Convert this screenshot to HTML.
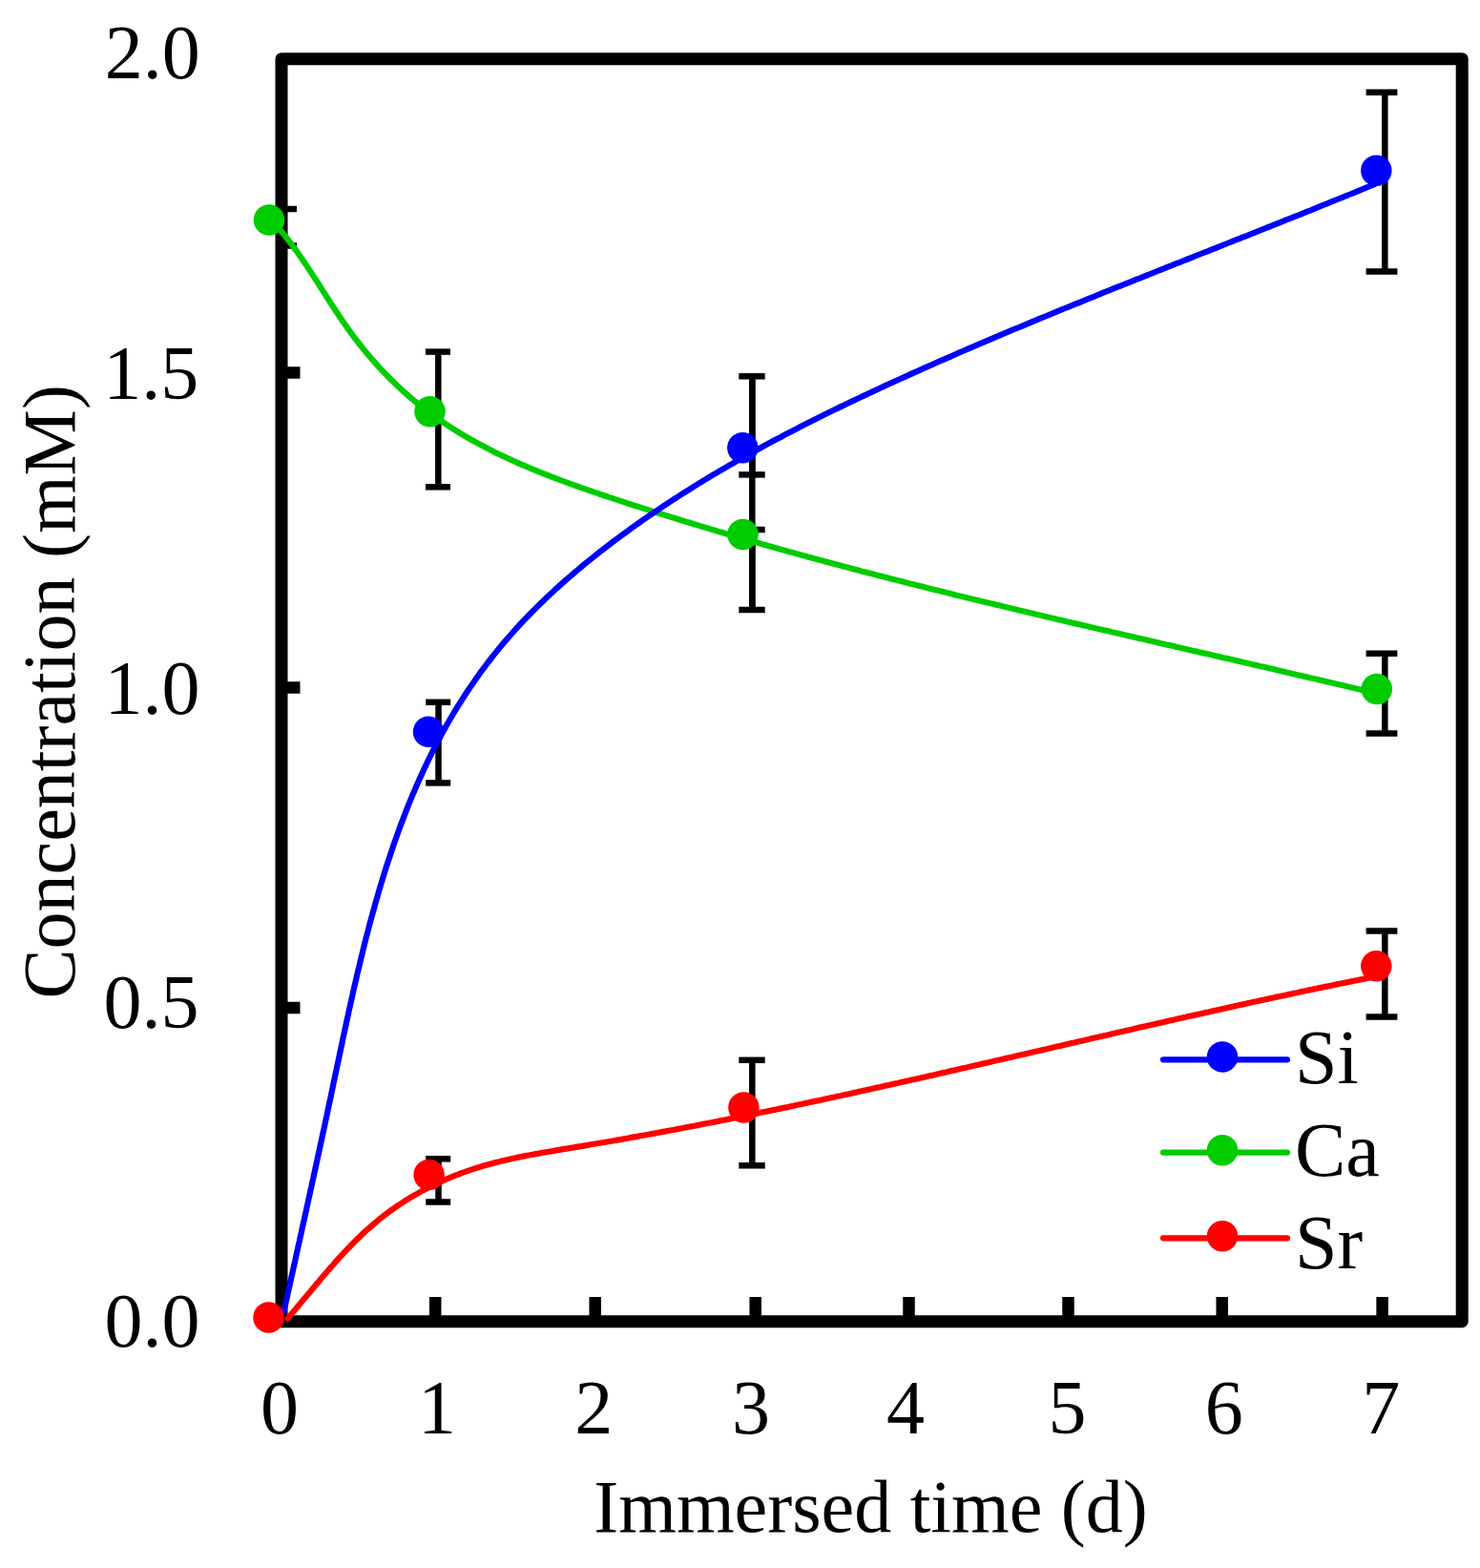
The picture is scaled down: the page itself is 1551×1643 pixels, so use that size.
<!DOCTYPE html>
<html><head><meta charset="utf-8"><title>Concentration vs Immersed time</title>
<style>
html,body{margin:0;padding:0;background:#fff;}
body{width:1551px;height:1643px;overflow:hidden;}
svg{display:block;}
.t{font-family:"Liberation Serif","Times New Roman",serif;font-size:80px;fill:#000;}
.t2{font-family:"Liberation Serif","Times New Roman",serif;font-size:78px;fill:#000;}
</style></head>
<body>
<svg width="1551" height="1643" viewBox="0 0 1551 1643">
<rect width="1551" height="1643" fill="#fff"/>
<rect x="295.0" y="61.7" width="1237.2" height="1323.0" fill="none" stroke="#000" stroke-width="13" stroke-linejoin="round"/>
<g stroke="#000" stroke-width="12.5"><line x1="456.2" y1="1384.7" x2="456.2" y2="1359"/><line x1="623.7" y1="1384.7" x2="623.7" y2="1359"/><line x1="791.7" y1="1384.7" x2="791.7" y2="1359"/><line x1="952.5" y1="1384.7" x2="952.5" y2="1359"/><line x1="1119.5" y1="1384.7" x2="1119.5" y2="1359"/><line x1="1280.7" y1="1384.7" x2="1280.7" y2="1359"/><line x1="1448.6" y1="1384.7" x2="1448.6" y2="1359"/><line x1="295.0" y1="390.5" x2="314.5" y2="390.5"/><line x1="295.0" y1="720.5" x2="314.5" y2="720.5"/><line x1="295.0" y1="1056.0" x2="314.5" y2="1056.0"/></g>
<g stroke="#000" stroke-width="6.5"><line x1="295.0" y1="219" x2="295.0" y2="257.5"/><line x1="292.0" y1="219" x2="311.0" y2="219"/><line x1="292.0" y1="257.5" x2="311.0" y2="257.5"/><line x1="459.3" y1="368.6" x2="459.3" y2="510.3"/><line x1="446.0" y1="368.6" x2="472.0" y2="368.6"/><line x1="446.0" y1="510.3" x2="472.0" y2="510.3"/><line x1="459.5" y1="735.8" x2="459.5" y2="820.4"/><line x1="446.2" y1="735.8" x2="472.2" y2="735.8"/><line x1="446.2" y1="820.4" x2="472.2" y2="820.4"/><line x1="459.5" y1="1214.3" x2="459.5" y2="1259.5"/><line x1="446.2" y1="1214.3" x2="472.2" y2="1214.3"/><line x1="446.2" y1="1259.5" x2="472.2" y2="1259.5"/><line x1="788.3" y1="394.3" x2="788.3" y2="497.4"/><line x1="774.3" y1="394.3" x2="801.7" y2="394.3"/><line x1="774.3" y1="497.4" x2="801.7" y2="497.4"/><line x1="788.3" y1="555.0" x2="788.3" y2="639.0"/><line x1="774.3" y1="555.0" x2="801.7" y2="555.0"/><line x1="774.3" y1="639.0" x2="801.7" y2="639.0"/><line x1="788.3" y1="394.3" x2="788.3" y2="639.0"/><line x1="788.0" y1="394.3" x2="788.0" y2="394.3"/><line x1="788.0" y1="639.0" x2="788.0" y2="639.0"/><line x1="788.3" y1="1110.8" x2="788.3" y2="1221.3"/><line x1="774.3" y1="1110.8" x2="801.7" y2="1110.8"/><line x1="774.3" y1="1221.3" x2="801.7" y2="1221.3"/><line x1="1451.3" y1="96.8" x2="1451.3" y2="284.5"/><line x1="1431.6" y1="96.8" x2="1464.4" y2="96.8"/><line x1="1431.6" y1="284.5" x2="1464.4" y2="284.5"/><line x1="1451.3" y1="684.8" x2="1451.3" y2="768.6"/><line x1="1431.6" y1="684.8" x2="1464.4" y2="684.8"/><line x1="1431.6" y1="768.6" x2="1464.4" y2="768.6"/><line x1="1451.3" y1="975.4" x2="1451.3" y2="1065.4"/><line x1="1431.6" y1="975.4" x2="1464.4" y2="975.4"/><line x1="1431.6" y1="1065.4" x2="1464.4" y2="1065.4"/></g>
<path d="M293.5,240.8 L295.5,243.3 L297.6,245.7 L299.6,248.3 L301.6,250.8 L303.5,253.3 L305.5,255.9 L307.4,258.5 L309.3,261.0 L311.1,263.6 L313.0,266.3 L314.8,268.9 L316.7,271.5 L318.5,274.2 L320.3,276.9 L322.1,279.5 L323.8,282.2 L325.6,284.9 L327.4,287.6 L329.1,290.3 L330.9,293.0 L332.6,295.7 L334.3,298.4 L336.1,301.2 L337.8,303.9 L339.6,306.6 L341.3,309.3 L343.0,312.0 L344.8,314.8 L346.5,317.5 L348.3,320.2 L350.1,322.9 L351.8,325.6 L353.6,328.3 L355.4,331.0 L357.2,333.7 L359.0,336.4 L360.9,339.0 L362.7,341.7 L364.6,344.3 L366.5,347.0 L368.4,349.6 L370.3,352.2 L372.3,354.8 L374.3,357.4 L376.3,360.0 L378.3,362.5 L380.3,365.1 L382.4,367.6 L384.4,370.1 L386.5,372.6 L388.7,375.0 L390.8,377.5 L392.9,379.9 L395.1,382.4 L397.3,384.8 L399.5,387.2 L401.8,389.5 L404.0,391.9 L406.3,394.2 L408.6,396.5 L410.9,398.8 L413.2,401.1 L415.5,403.3 L417.9,405.5 L420.3,407.7 L422.6,409.9 L425.1,412.1 L427.5,414.2 L429.9,416.3 L432.4,418.4 L434.8,420.5 L437.3,422.5 L439.8,424.5 L442.4,426.5 L444.9,428.5 L447.4,430.4 L450.0,432.4 L452.6,434.3 L455.2,436.1 L457.8,438.0 L460.4,439.8 L463.0,441.6 L465.7,443.4 L468.4,445.2 L471.0,446.9 L473.7,448.7 L476.4,450.4 L479.1,452.0 L481.9,453.7 L484.6,455.3 L487.4,457.0 L490.1,458.6 L492.9,460.2 L495.7,461.7 L498.5,463.3 L501.3,464.8 L504.1,466.3 L506.9,467.8 L509.8,469.3 L512.6,470.8 L515.5,472.2 L518.3,473.7 L521.2,475.1 L524.1,476.5 L527.0,477.9 L529.9,479.2 L532.8,480.6 L535.7,481.9 L538.7,483.3 L541.6,484.6 L544.5,485.9 L547.5,487.2 L550.5,488.4 L553.4,489.7 L556.4,490.9 L559.4,492.2 L562.4,493.4 L565.4,494.6 L568.4,495.8 L571.4,497.0 L574.4,498.2 L577.4,499.4 L580.4,500.5 L583.4,501.7 L586.5,502.8 L589.5,503.9 L592.6,505.1 L595.6,506.2 L598.7,507.3 L601.7,508.4 L604.8,509.5 L607.8,510.6 L610.9,511.6 L614.0,512.7 L617.0,513.8 L620.1,514.8 L623.2,515.9 L626.3,516.9 L629.3,518.0 L632.4,519.0 L635.5,520.0 L638.6,521.1 L641.7,522.1 L644.8,523.1 L647.9,524.1 L650.9,525.1 L654.0,526.1 L657.1,527.2 L660.2,528.2 L663.3,529.2 L666.4,530.2 L669.5,531.1 L672.6,532.1 L675.7,533.1 L678.8,534.1 L681.9,535.1 L684.9,536.1 L688.0,537.0 L691.1,538.0 L694.2,539.0 L697.3,540.0 L700.4,540.9 L703.5,541.9 L706.6,542.8 L709.7,543.8 L712.8,544.8 L715.9,545.7 L719.0,546.7 L722.1,547.6 L725.2,548.5 L728.3,549.5 L731.4,550.4 L734.5,551.4 L737.6,552.3 L740.7,553.2 L743.8,554.1 L746.9,555.1 L750.0,556.0 L753.1,556.9 L756.2,557.8 L759.3,558.7 L762.4,559.7 L765.5,560.6 L768.6,561.5 L771.8,562.4 L774.9,563.3 L778.0,564.2 L781.1,565.1 L784.2,566.0 L787.3,566.9 L790.4,567.7 L793.5,568.6 L796.6,569.5 L799.7,570.4 L802.8,571.3 L805.9,572.2 L809.1,573.0 L812.2,573.9 L815.3,574.8 L818.4,575.7 L821.5,576.5 L824.6,577.4 L827.7,578.3 L830.8,579.1 L834.0,580.0 L837.1,580.8 L840.2,581.7 L843.3,582.5 L846.4,583.4 L849.5,584.2 L852.6,585.1 L855.8,585.9 L858.9,586.8 L862.0,587.6 L865.1,588.4 L868.2,589.3 L871.3,590.1 L874.5,591.0 L877.6,591.8 L880.7,592.6 L883.8,593.4 L886.9,594.3 L890.1,595.1 L893.2,595.9 L896.3,596.7 L899.4,597.5 L902.5,598.4 L905.7,599.2 L908.8,600.0 L911.9,600.8 L915.0,601.6 L918.2,602.4 L921.3,603.2 L924.4,604.0 L927.5,604.8 L930.6,605.6 L933.8,606.4 L936.9,607.2 L940.0,608.0 L943.1,608.8 L946.3,609.6 L949.4,610.4 L952.5,611.2 L955.7,612.0 L958.8,612.8 L961.9,613.6 L965.0,614.3 L968.2,615.1 L971.3,615.9 L974.4,616.7 L977.6,617.5 L980.7,618.3 L983.8,619.0 L986.9,619.8 L990.1,620.6 L993.2,621.3 L996.3,622.1 L999.5,622.9 L1002.6,623.7 L1005.7,624.4 L1008.9,625.2 L1012.0,626.0 L1015.1,626.7 L1018.3,627.5 L1021.4,628.2 L1024.5,629.0 L1027.7,629.8 L1030.8,630.5 L1033.9,631.3 L1037.1,632.0 L1040.2,632.8 L1043.3,633.6 L1046.5,634.3 L1049.6,635.1 L1052.7,635.8 L1055.9,636.6 L1059.0,637.3 L1062.1,638.1 L1065.3,638.8 L1068.4,639.6 L1071.6,640.3 L1074.7,641.0 L1077.8,641.8 L1081.0,642.5 L1084.1,643.3 L1087.2,644.0 L1090.4,644.8 L1093.5,645.5 L1096.7,646.2 L1099.8,647.0 L1102.9,647.7 L1106.1,648.4 L1109.2,649.2 L1112.4,649.9 L1115.5,650.7 L1118.6,651.4 L1121.8,652.1 L1124.9,652.9 L1128.1,653.6 L1131.2,654.3 L1134.3,655.1 L1137.5,655.8 L1140.6,656.5 L1143.8,657.3 L1146.9,658.0 L1150.1,658.7 L1153.2,659.4 L1156.3,660.2 L1159.5,660.9 L1162.6,661.6 L1165.8,662.4 L1168.9,663.1 L1172.1,663.8 L1175.2,664.5 L1178.4,665.3 L1181.5,666.0 L1184.6,666.7 L1187.8,667.4 L1190.9,668.2 L1194.1,668.9 L1197.2,669.6 L1200.4,670.3 L1203.5,671.1 L1206.7,671.8 L1209.8,672.5 L1213.0,673.2 L1216.1,674.0 L1219.3,674.7 L1222.4,675.4 L1225.6,676.1 L1228.7,676.8 L1231.8,677.6 L1235.0,678.3 L1238.1,679.0 L1241.3,679.7 L1244.4,680.5 L1247.6,681.2 L1250.7,681.9 L1253.9,682.6 L1257.0,683.4 L1260.2,684.1 L1263.3,684.8 L1266.5,685.5 L1269.6,686.3 L1272.8,687.0 L1275.9,687.7 L1279.1,688.4 L1282.2,689.2 L1285.4,689.9 L1288.5,690.6 L1291.7,691.3 L1294.8,692.1 L1298.0,692.8 L1301.1,693.5 L1304.3,694.2 L1307.4,695.0 L1310.6,695.7 L1313.7,696.4 L1316.9,697.1 L1320.1,697.9 L1323.2,698.6 L1326.4,699.3 L1329.5,700.1 L1332.7,700.8 L1335.8,701.5 L1339.0,702.3 L1342.1,703.0 L1345.3,703.7 L1348.4,704.5 L1351.6,705.2 L1354.7,705.9 L1357.9,706.7 L1361.0,707.4 L1364.2,708.1 L1367.3,708.9 L1370.5,709.6 L1373.7,710.4 L1376.8,711.1 L1380.0,711.8 L1383.1,712.6 L1386.3,713.3 L1389.4,714.1 L1392.6,714.8 L1395.7,715.5 L1398.9,716.3 L1402.0,717.0 L1405.2,717.8 L1408.4,718.5 L1411.5,719.3 L1414.7,720.0 L1417.8,720.8 L1421.0,721.5 L1424.1,722.3 L1427.3,723.0 L1430.4,723.8 L1433.6,724.5 L1436.7,725.3 L1439.9,726.1 L1443.1,726.8" fill="none" stroke="#00cc00" stroke-width="6.2" stroke-linecap="round" stroke-linejoin="round"/>
<path d="M297.6,1373.9 L298.5,1369.5 L299.5,1365.1 L300.5,1360.7 L301.4,1356.3 L302.4,1352.0 L303.4,1347.6 L304.3,1343.2 L305.3,1338.8 L306.3,1334.5 L307.2,1330.1 L308.2,1325.7 L309.2,1321.4 L310.1,1317.0 L311.1,1312.6 L312.0,1308.3 L313.0,1303.9 L314.0,1299.6 L314.9,1295.2 L315.9,1290.9 L316.8,1286.5 L317.8,1282.2 L318.8,1277.8 L319.7,1273.5 L320.7,1269.1 L321.6,1264.8 L322.6,1260.4 L323.5,1256.1 L324.5,1251.8 L325.4,1247.4 L326.4,1243.1 L327.3,1238.7 L328.3,1234.4 L329.2,1230.1 L330.2,1225.7 L331.1,1221.4 L332.1,1217.0 L333.0,1212.7 L333.9,1208.3 L334.9,1204.0 L335.8,1199.7 L336.8,1195.3 L337.7,1191.0 L338.6,1186.6 L339.6,1182.2 L340.5,1177.9 L341.4,1173.5 L342.4,1169.2 L343.3,1164.8 L344.2,1160.4 L345.1,1156.1 L346.1,1151.7 L347.0,1147.3 L347.9,1142.9 L348.8,1138.6 L349.7,1134.2 L350.7,1129.8 L351.6,1125.4 L352.5,1121.0 L353.4,1116.6 L354.4,1112.2 L355.3,1107.8 L356.2,1103.5 L357.1,1099.1 L358.1,1094.7 L359.0,1090.3 L359.9,1085.9 L360.9,1081.5 L361.8,1077.1 L362.8,1072.7 L363.7,1068.3 L364.7,1063.9 L365.6,1059.5 L366.6,1055.1 L367.6,1050.7 L368.6,1046.3 L369.6,1041.9 L370.5,1037.5 L371.5,1033.1 L372.6,1028.7 L373.6,1024.3 L374.6,1019.9 L375.6,1015.6 L376.7,1011.2 L377.7,1006.8 L378.8,1002.4 L379.9,998.1 L380.9,993.7 L382.0,989.3 L383.1,985.0 L384.2,980.6 L385.4,976.3 L386.5,971.9 L387.6,967.6 L388.8,963.2 L390.0,958.9 L391.2,954.6 L392.4,950.3 L393.6,945.9 L394.8,941.6 L396.1,937.3 L397.3,933.0 L398.6,928.7 L399.9,924.4 L401.2,920.1 L402.5,915.9 L403.8,911.6 L405.2,907.3 L406.6,903.1 L408.0,898.8 L409.4,894.6 L410.8,890.4 L412.2,886.1 L413.7,881.9 L415.2,877.7 L416.7,873.5 L418.2,869.3 L419.7,865.1 L421.3,861.0 L422.9,856.8 L424.5,852.6 L426.1,848.5 L427.7,844.4 L429.4,840.2 L431.1,836.1 L432.8,832.0 L434.6,827.9 L436.3,823.8 L438.1,819.8 L439.9,815.7 L441.8,811.7 L443.6,807.6 L445.5,803.6 L447.4,799.6 L449.3,795.6 L451.3,791.6 L453.3,787.6 L455.3,783.6 L457.3,779.7 L459.4,775.7 L461.5,771.8 L463.6,767.9 L465.8,764.0 L468.0,760.1 L470.2,756.2 L472.4,752.4 L474.7,748.5 L477.0,744.7 L479.3,740.9 L481.7,737.1 L484.1,733.3 L486.5,729.5 L488.9,725.8 L491.4,722.1 L493.9,718.4 L496.5,714.7 L499.0,711.0 L501.6,707.4 L504.2,703.7 L506.9,700.1 L509.6,696.5 L512.3,693.0 L515.0,689.5 L517.8,685.9 L520.6,682.5 L523.4,679.0 L526.3,675.6 L529.2,672.1 L532.1,668.8 L535.0,665.4 L538.0,662.0 L541.0,658.7 L544.0,655.4 L547.0,652.2 L550.1,648.9 L553.2,645.7 L556.3,642.5 L559.4,639.3 L562.6,636.1 L565.8,633.0 L569.0,629.9 L572.2,626.8 L575.5,623.7 L578.8,620.7 L582.1,617.6 L585.4,614.6 L588.7,611.6 L592.0,608.7 L595.4,605.7 L598.8,602.8 L602.2,599.9 L605.6,597.0 L609.1,594.1 L612.5,591.2 L616.0,588.4 L619.5,585.6 L623.0,582.8 L626.5,580.0 L630.0,577.2 L633.6,574.5 L637.1,571.8 L640.7,569.0 L644.3,566.3 L647.8,563.7 L651.4,561.0 L655.1,558.4 L658.7,555.7 L662.3,553.1 L665.9,550.5 L669.6,547.9 L673.3,545.3 L676.9,542.8 L680.6,540.3 L684.3,537.7 L688.0,535.2 L691.7,532.7 L695.4,530.2 L699.2,527.8 L702.9,525.3 L706.6,522.9 L710.4,520.5 L714.2,518.0 L717.9,515.6 L721.7,513.3 L725.5,510.9 L729.3,508.5 L733.1,506.2 L736.9,503.9 L740.7,501.5 L744.6,499.2 L748.4,496.9 L752.3,494.7 L756.1,492.4 L760.0,490.1 L763.8,487.9 L767.7,485.7 L771.6,483.4 L775.5,481.2 L779.4,479.0 L783.3,476.8 L787.2,474.7 L791.1,472.5 L795.0,470.4 L798.9,468.2 L802.9,466.1 L806.8,464.0 L810.8,461.8 L814.7,459.7 L818.7,457.7 L822.6,455.6 L826.6,453.5 L830.6,451.4 L834.5,449.4 L838.5,447.3 L842.5,445.3 L846.5,443.3 L850.5,441.3 L854.5,439.2 L858.5,437.2 L862.5,435.3 L866.5,433.3 L870.6,431.3 L874.6,429.3 L878.6,427.4 L882.7,425.4 L886.7,423.5 L890.7,421.5 L894.8,419.6 L898.8,417.7 L902.9,415.8 L906.9,413.9 L911.0,412.0 L915.0,410.1 L919.1,408.2 L923.2,406.3 L927.2,404.4 L931.3,402.5 L935.4,400.7 L939.4,398.8 L943.5,397.0 L947.6,395.1 L951.7,393.3 L955.8,391.4 L959.8,389.6 L963.9,387.8 L968.0,385.9 L972.1,384.1 L976.2,382.3 L980.3,380.5 L984.4,378.7 L988.5,376.9 L992.6,375.1 L996.7,373.3 L1000.8,371.5 L1004.9,369.7 L1009.0,368.0 L1013.1,366.2 L1017.2,364.4 L1021.3,362.7 L1025.4,360.9 L1029.5,359.1 L1033.6,357.4 L1037.7,355.6 L1041.8,353.9 L1046.0,352.2 L1050.1,350.4 L1054.2,348.7 L1058.3,346.9 L1062.4,345.2 L1066.6,343.5 L1070.7,341.8 L1074.8,340.1 L1078.9,338.3 L1083.1,336.6 L1087.2,334.9 L1091.3,333.2 L1095.5,331.5 L1099.6,329.8 L1103.7,328.1 L1107.9,326.4 L1112.0,324.7 L1116.1,323.0 L1120.3,321.3 L1124.4,319.6 L1128.5,318.0 L1132.7,316.3 L1136.8,314.6 L1141.0,312.9 L1145.1,311.3 L1149.2,309.6 L1153.4,307.9 L1157.5,306.2 L1161.7,304.6 L1165.8,302.9 L1170.0,301.2 L1174.1,299.6 L1178.3,297.9 L1182.4,296.3 L1186.6,294.6 L1190.7,292.9 L1194.9,291.3 L1199.0,289.6 L1203.2,288.0 L1207.3,286.3 L1211.5,284.7 L1215.6,283.0 L1219.8,281.4 L1223.9,279.7 L1228.1,278.1 L1232.2,276.4 L1236.4,274.8 L1240.6,273.1 L1244.7,271.5 L1248.9,269.8 L1253.0,268.2 L1257.2,266.5 L1261.3,264.9 L1265.5,263.3 L1269.6,261.6 L1273.8,260.0 L1278.0,258.3 L1282.1,256.7 L1286.3,255.0 L1290.4,253.4 L1294.6,251.7 L1298.7,250.1 L1302.9,248.4 L1307.1,246.8 L1311.2,245.1 L1315.4,243.5 L1319.5,241.8 L1323.7,240.2 L1327.8,238.5 L1332.0,236.9 L1336.2,235.2 L1340.3,233.6 L1344.5,231.9 L1348.6,230.2 L1352.8,228.6 L1356.9,226.9 L1361.1,225.3 L1365.3,223.6 L1369.4,221.9 L1373.6,220.3 L1377.7,218.6 L1381.9,216.9 L1386.0,215.2 L1390.2,213.6 L1394.3,211.9 L1398.5,210.2 L1402.6,208.5 L1406.8,206.8 L1410.9,205.2 L1415.1,203.5 L1419.2,201.8 L1423.4,200.1 L1427.5,198.4 L1431.7,196.7 L1435.8,195.0 L1440.0,193.3" fill="none" stroke="#0000ff" stroke-width="6.2" stroke-linecap="round" stroke-linejoin="round"/>
<path d="M301.5,1381.4 L303.5,1379.1 L305.4,1376.8 L307.4,1374.5 L309.4,1372.2 L311.3,1369.9 L313.3,1367.6 L315.2,1365.2 L317.2,1362.9 L319.2,1360.5 L321.1,1358.2 L323.1,1355.8 L325.1,1353.5 L327.0,1351.1 L329.0,1348.7 L331.0,1346.4 L333.0,1344.0 L334.9,1341.7 L336.9,1339.3 L338.9,1336.9 L341.0,1334.6 L343.0,1332.3 L345.0,1329.9 L347.0,1327.6 L349.1,1325.3 L351.1,1322.9 L353.2,1320.6 L355.2,1318.3 L357.3,1316.1 L359.4,1313.8 L361.5,1311.5 L363.6,1309.3 L365.8,1307.1 L367.9,1304.8 L370.1,1302.6 L372.2,1300.5 L374.4,1298.3 L376.6,1296.2 L378.8,1294.0 L381.1,1291.9 L383.3,1289.9 L385.6,1287.8 L387.9,1285.8 L390.2,1283.8 L392.5,1281.8 L394.9,1279.8 L397.2,1277.9 L399.6,1276.0 L402.0,1274.1 L404.4,1272.3 L406.9,1270.4 L409.3,1268.6 L411.8,1266.9 L414.3,1265.1 L416.8,1263.4 L419.3,1261.7 L421.9,1260.0 L424.4,1258.4 L427.0,1256.8 L429.6,1255.2 L432.2,1253.6 L434.8,1252.1 L437.5,1250.6 L440.1,1249.1 L442.8,1247.6 L445.5,1246.2 L448.2,1244.8 L450.9,1243.4 L453.6,1242.1 L456.4,1240.7 L459.1,1239.4 L461.9,1238.2 L464.7,1236.9 L467.4,1235.7 L470.2,1234.5 L473.1,1233.3 L475.9,1232.2 L478.7,1231.1 L481.6,1230.0 L484.4,1228.9 L487.3,1227.9 L490.2,1226.9 L493.1,1225.9 L496.0,1224.9 L498.9,1224.0 L501.8,1223.1 L504.7,1222.2 L507.6,1221.3 L510.6,1220.5 L513.5,1219.7 L516.5,1218.9 L519.4,1218.1 L522.4,1217.4 L525.4,1216.6 L528.4,1215.9 L531.4,1215.2 L534.4,1214.6 L537.4,1213.9 L540.4,1213.3 L543.4,1212.6 L546.4,1212.0 L549.4,1211.4 L552.5,1210.8 L555.5,1210.3 L558.5,1209.7 L561.5,1209.1 L564.6,1208.6 L567.6,1208.0 L570.7,1207.5 L573.7,1207.0 L576.7,1206.5 L579.8,1206.0 L582.8,1205.4 L585.9,1204.9 L588.9,1204.4 L592.0,1203.9 L595.0,1203.4 L598.1,1202.9 L601.1,1202.4 L604.1,1201.9 L607.2,1201.4 L610.2,1200.9 L613.2,1200.4 L616.3,1199.9 L619.3,1199.3 L622.3,1198.8 L625.4,1198.3 L628.4,1197.8 L631.4,1197.3 L634.4,1196.7 L637.5,1196.2 L640.5,1195.7 L643.5,1195.2 L646.5,1194.6 L649.6,1194.1 L652.6,1193.6 L655.6,1193.0 L658.6,1192.5 L661.6,1191.9 L664.6,1191.4 L667.7,1190.9 L670.7,1190.3 L673.7,1189.8 L676.7,1189.2 L679.7,1188.7 L682.7,1188.1 L685.7,1187.6 L688.7,1187.0 L691.7,1186.5 L694.7,1185.9 L697.7,1185.4 L700.7,1184.8 L703.8,1184.2 L706.8,1183.7 L709.8,1183.1 L712.8,1182.5 L715.8,1182.0 L718.8,1181.4 L721.8,1180.8 L724.8,1180.2 L727.8,1179.7 L730.8,1179.1 L733.8,1178.5 L736.8,1177.9 L739.8,1177.3 L742.8,1176.8 L745.8,1176.2 L748.8,1175.6 L751.8,1175.0 L754.8,1174.4 L757.8,1173.8 L760.8,1173.2 L763.8,1172.6 L766.7,1172.0 L769.7,1171.4 L772.7,1170.8 L775.7,1170.2 L778.7,1169.6 L781.7,1169.0 L784.7,1168.4 L787.7,1167.8 L790.7,1167.2 L793.7,1166.6 L796.7,1165.9 L799.7,1165.3 L802.7,1164.7 L805.7,1164.1 L808.7,1163.5 L811.7,1162.9 L814.7,1162.2 L817.7,1161.6 L820.7,1161.0 L823.7,1160.4 L826.7,1159.7 L829.7,1159.1 L832.7,1158.5 L835.7,1157.8 L838.7,1157.2 L841.6,1156.6 L844.6,1155.9 L847.6,1155.3 L850.6,1154.6 L853.6,1154.0 L856.6,1153.4 L859.6,1152.7 L862.6,1152.1 L865.6,1151.4 L868.6,1150.8 L871.6,1150.1 L874.6,1149.5 L877.6,1148.8 L880.6,1148.2 L883.6,1147.5 L886.6,1146.9 L889.5,1146.2 L892.5,1145.6 L895.5,1144.9 L898.5,1144.3 L901.5,1143.6 L904.5,1142.9 L907.5,1142.3 L910.5,1141.6 L913.5,1141.0 L916.5,1140.3 L919.5,1139.6 L922.5,1139.0 L925.5,1138.3 L928.4,1137.6 L931.4,1137.0 L934.4,1136.3 L937.4,1135.6 L940.4,1135.0 L943.4,1134.3 L946.4,1133.6 L949.4,1132.9 L952.4,1132.3 L955.4,1131.6 L958.4,1130.9 L961.4,1130.2 L964.3,1129.6 L967.3,1128.9 L970.3,1128.2 L973.3,1127.5 L976.3,1126.9 L979.3,1126.2 L982.3,1125.5 L985.3,1124.8 L988.3,1124.1 L991.3,1123.5 L994.3,1122.8 L997.2,1122.1 L1000.2,1121.4 L1003.2,1120.7 L1006.2,1120.0 L1009.2,1119.3 L1012.2,1118.7 L1015.2,1118.0 L1018.2,1117.3 L1021.2,1116.6 L1024.2,1115.9 L1027.1,1115.2 L1030.1,1114.5 L1033.1,1113.9 L1036.1,1113.2 L1039.1,1112.5 L1042.1,1111.8 L1045.1,1111.1 L1048.1,1110.4 L1051.1,1109.7 L1054.1,1109.0 L1057.0,1108.3 L1060.0,1107.7 L1063.0,1107.0 L1066.0,1106.3 L1069.0,1105.6 L1072.0,1104.9 L1075.0,1104.2 L1078.0,1103.5 L1081.0,1102.8 L1084.0,1102.1 L1086.9,1101.4 L1089.9,1100.7 L1092.9,1100.1 L1095.9,1099.4 L1098.9,1098.7 L1101.9,1098.0 L1104.9,1097.3 L1107.9,1096.6 L1110.9,1095.9 L1113.9,1095.2 L1116.8,1094.5 L1119.8,1093.8 L1122.8,1093.1 L1125.8,1092.5 L1128.8,1091.8 L1131.8,1091.1 L1134.8,1090.4 L1137.8,1089.7 L1140.8,1089.0 L1143.7,1088.3 L1146.7,1087.6 L1149.7,1086.9 L1152.7,1086.2 L1155.7,1085.6 L1158.7,1084.9 L1161.7,1084.2 L1164.7,1083.5 L1167.7,1082.8 L1170.7,1082.1 L1173.6,1081.4 L1176.6,1080.7 L1179.6,1080.1 L1182.6,1079.4 L1185.6,1078.7 L1188.6,1078.0 L1191.6,1077.3 L1194.6,1076.6 L1197.6,1075.9 L1200.6,1075.3 L1203.6,1074.6 L1206.5,1073.9 L1209.5,1073.2 L1212.5,1072.5 L1215.5,1071.9 L1218.5,1071.2 L1221.5,1070.5 L1224.5,1069.8 L1227.5,1069.1 L1230.5,1068.5 L1233.5,1067.8 L1236.4,1067.1 L1239.4,1066.4 L1242.4,1065.8 L1245.4,1065.1 L1248.4,1064.4 L1251.4,1063.7 L1254.4,1063.1 L1257.4,1062.4 L1260.4,1061.7 L1263.4,1061.1 L1266.4,1060.4 L1269.4,1059.7 L1272.3,1059.1 L1275.3,1058.4 L1278.3,1057.7 L1281.3,1057.1 L1284.3,1056.4 L1287.3,1055.7 L1290.3,1055.1 L1293.3,1054.4 L1296.3,1053.8 L1299.3,1053.1 L1302.3,1052.4 L1305.3,1051.8 L1308.3,1051.1 L1311.2,1050.5 L1314.2,1049.8 L1317.2,1049.2 L1320.2,1048.5 L1323.2,1047.9 L1326.2,1047.2 L1329.2,1046.6 L1332.2,1045.9 L1335.2,1045.3 L1338.2,1044.6 L1341.2,1044.0 L1344.2,1043.4 L1347.2,1042.7 L1350.2,1042.1 L1353.2,1041.4 L1356.1,1040.8 L1359.1,1040.2 L1362.1,1039.5 L1365.1,1038.9 L1368.1,1038.3 L1371.1,1037.6 L1374.1,1037.0 L1377.1,1036.4 L1380.1,1035.8 L1383.1,1035.1 L1386.1,1034.5 L1389.1,1033.9 L1392.1,1033.3 L1395.1,1032.7 L1398.1,1032.0 L1401.1,1031.4 L1404.1,1030.8 L1407.1,1030.2 L1410.1,1029.6 L1413.1,1029.0 L1416.1,1028.4 L1419.1,1027.8 L1422.0,1027.2 L1425.0,1026.6 L1428.0,1026.0 L1431.0,1025.4 L1434.0,1024.8 L1437.0,1024.2 L1440.0,1023.6 L1443.0,1023.0" fill="none" stroke="#ff0000" stroke-width="6.2" stroke-linecap="round" stroke-linejoin="round"/>
<circle cx="449.0" cy="766.8" r="16.25" fill="#0000ff"/>
<circle cx="778.3" cy="469.2" r="16.25" fill="#0000ff"/>
<circle cx="1442.3" cy="178.8" r="16.25" fill="#0000ff"/>
<circle cx="282.0" cy="230.4" r="16.25" fill="#00cc00"/>
<circle cx="450.5" cy="431.3" r="16.25" fill="#00cc00"/>
<circle cx="778.5" cy="560.1" r="16.25" fill="#00cc00"/>
<circle cx="1442.8" cy="722.1" r="16.25" fill="#00cc00"/>
<circle cx="281.5" cy="1380.5" r="16.25" fill="#ff0000"/>
<circle cx="449.6" cy="1231.1" r="16.25" fill="#ff0000"/>
<circle cx="779.4" cy="1160.6" r="16.25" fill="#ff0000"/>
<circle cx="1442.3" cy="1012.3" r="16.25" fill="#ff0000"/>
<line x1="1219" y1="1110.3" x2="1349" y2="1110.3" stroke="#0000ff" stroke-width="6.2" stroke-linecap="round"/>
<circle cx="1281" cy="1107.4" r="16.25" fill="#0000ff"/>
<text x="1357" y="1134.5" class="t">Si</text>
<line x1="1219" y1="1207.6" x2="1349" y2="1207.6" stroke="#00cc00" stroke-width="6.2" stroke-linecap="round"/>
<circle cx="1281" cy="1205.2" r="16.25" fill="#00cc00"/>
<text x="1357" y="1231.8" class="t">Ca</text>
<line x1="1219" y1="1297.3" x2="1349" y2="1297.3" stroke="#ff0000" stroke-width="6.2" stroke-linecap="round"/>
<circle cx="1281" cy="1295.3" r="16.25" fill="#ff0000"/>
<text x="1357" y="1329.0" class="t">Sr</text>
<text x="292.9" y="1502" class="t" text-anchor="middle">0</text>
<text x="458.1" y="1502" class="t" text-anchor="middle">1</text>
<text x="622.3" y="1502" class="t" text-anchor="middle">2</text>
<text x="787.0" y="1502" class="t" text-anchor="middle">3</text>
<text x="948.9" y="1502" class="t" text-anchor="middle">4</text>
<text x="1118.5" y="1502" class="t" text-anchor="middle">5</text>
<text x="1282.8" y="1502" class="t" text-anchor="middle">6</text>
<text x="1447.2" y="1502" class="t" text-anchor="middle">7</text>
<text x="209.8" y="81.8" class="t" text-anchor="end">2.0</text>
<text x="208.3" y="418.2" class="t" text-anchor="end">1.5</text>
<text x="209.6" y="747.5" class="t" text-anchor="end">1.0</text>
<text x="208.5" y="1077.3" class="t" text-anchor="end">0.5</text>
<text x="209.6" y="1411.2" class="t" text-anchor="end">0.0</text>
<text x="912.5" y="1604.7" class="t2" text-anchor="middle">Immersed time (d)</text>
<text transform="translate(77.5,724.8) rotate(-90)" x="0" y="0" class="t2" text-anchor="middle">Concentration (mM)</text>
</svg>
</body></html>
